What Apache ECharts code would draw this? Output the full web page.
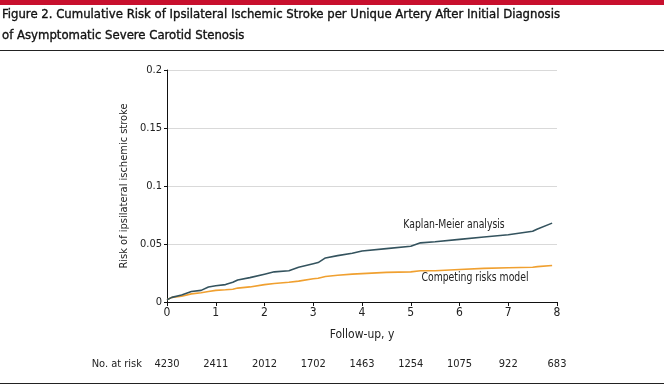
<!DOCTYPE html>
<html><head><meta charset="utf-8">
<script src="https://cdn.jsdelivr.net/npm/echarts@6/dist/echarts.min.js"></script>
<style>html,body{margin:0;padding:0;background:#fff}#c{width:664px;height:386px}</style>
</head><body><div id="c"></div>
<script>
const years = [0,0.1,0.3,0.5,0.7,0.85,1,1.2,1.35,1.45,1.7,2,2.2,2.5,2.7,3,3.1,3.25,3.5,3.8,4,4.5,5,5.2,5.5,6,6.5,7,7.5,7.6,7.9];
const kaplanMeier = [0.002,0.004,0.006,0.009,0.010,0.013,0.014,0.015,0.017,0.019,0.021,0.024,0.026,0.027,0.030,0.033,0.034,0.038,0.040,0.042,0.044,0.046,0.048,0.051,0.052,0.054,0.056,0.058,0.061,0.063,0.068];
const competing = [0.002,0.004,0.005,0.007,0.008,0.009,0.010,0.0105,0.011,0.012,0.013,0.015,0.016,0.017,0.018,0.020,0.0205,0.022,0.023,0.024,0.0245,0.0255,0.026,0.027,0.027,0.028,0.029,0.0295,0.030,0.0305,0.0315];
const xTicks = [0,1,2,3,4,5,6,7,8];
const atRisk = [4230,2411,2012,1702,1463,1254,1075,922,683];
const titleLines = ['Figure 2. Cumulative Risk of Ipsilateral Ischemic Stroke per Unique Artery After Initial Diagnosis','of Asymptomatic Severe Carotid Stenosis'];

const FONT = '"Liberation Sans Narrow","DejaVu Sans Condensed",sans-serif';
const chart = echarts.init(document.getElementById('c'));
const km = years.map((x,i)=>[x,kaplanMeier[i]]);
const cr = years.map((x,i)=>[x,competing[i]]);
chart.setOption({
  animation:false,
  textStyle:{fontFamily:FONT},
  grid:{left:167,right:107,top:70,bottom:84,containLabel:false},
  xAxis:[{
    type:'value',min:0,max:8,interval:1,
    name:'Follow-up, y',nameLocation:'middle',nameGap:27,nameMoveOverlap:false,
    nameTextStyle:{fontFamily:FONT,fontSize:12,color:'#222'},
    axisLine:{lineStyle:{color:'#111',width:1}},
    axisTick:{show:true,length:4,lineStyle:{color:'#111'}},
    axisLabel:{fontFamily:FONT,fontSize:12,color:'#222',margin:5},
    splitLine:{show:false}
  },{
    type:'value',min:0,max:8,interval:1,position:'bottom',offset:49,
    axisLine:{show:false},axisTick:{show:false},splitLine:{show:false},
    axisLabel:{fontFamily:FONT,fontSize:11,color:'#222',formatter:v=>{const i=xTicks.indexOf(v);return i>=0?String(atRisk[i]):'';}}
  }],
  yAxis:{
    type:'value',min:0,max:0.2,interval:0.05,
    name:'Risk of ipsilateral ischemic stroke',nameLocation:'middle',nameGap:37,nameMoveOverlap:false,
    nameTextStyle:{fontFamily:FONT,fontSize:11,color:'#222'},
    axisLine:{show:true,lineStyle:{color:'#111'}},
    axisTick:{show:true,length:3,lineStyle:{color:'#111'}},
    axisLabel:{fontFamily:FONT,fontSize:11,color:'#222',margin:5,formatter:v=>v===0?'0':String(+v.toFixed(2))},
    splitLine:{show:true,lineStyle:{color:'#d9d9d9',width:1}}
  },
  series:[
    {type:'line',data:km,showSymbol:false,lineStyle:{color:'#34535e',width:1.6},z:3},
    {type:'line',data:cr,showSymbol:false,lineStyle:{color:'#f0a030',width:1.6},z:2}
  ],
  graphic:[
    {type:'rect',shape:{x:0,y:0,width:664,height:5},style:{fill:'#c8102e'}},
    {type:'text',x:2,y:8,style:{text:titleLines[0],font:'13px '+FONT,fill:'#111',stroke:'#111',lineWidth:0.35}},
    {type:'text',x:2,y:29,style:{text:titleLines[1],font:'13px '+FONT,fill:'#111',stroke:'#111',lineWidth:0.35}},
    {type:'rect',shape:{x:0,y:50,width:664,height:1},style:{fill:'#222'}},
    {type:'rect',shape:{x:0,y:383,width:664,height:1},style:{fill:'#222'}},
    {type:'text',x:454,y:225,scaleX:0.86,style:{text:'Kaplan-Meier analysis',font:'12px '+FONT,fill:'#222',align:'center',verticalAlign:'middle'}},
    {type:'text',x:475,y:278,scaleX:0.86,style:{text:'Competing risks model',font:'12px '+FONT,fill:'#222',align:'center',verticalAlign:'middle'}},
    {type:'text',x:142,y:359,style:{text:'No. at risk',font:'11px '+FONT,fill:'#222',align:'right'}}
  ]
});
</script></body></html>
